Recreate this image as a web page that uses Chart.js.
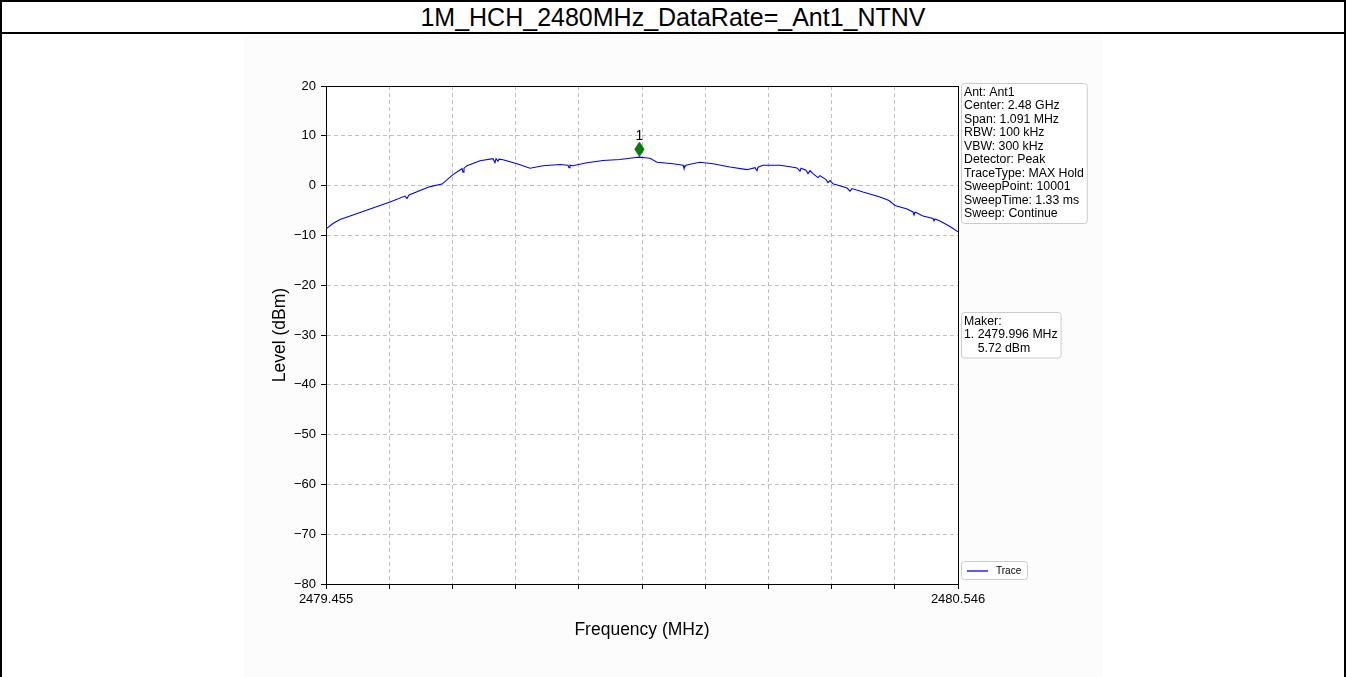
<!DOCTYPE html>
<html>
<head>
<meta charset="utf-8">
<script src="https://cdn.jsdelivr.net/npm/chart.js@4.4.1/dist/chart.umd.min.js"></script>
<style>
  html, body { margin:0; padding:0; background:#fff; width:1346px; height:677px; overflow:hidden; }
  #frame { position:absolute; left:0; top:0; width:1342px; height:720px; border:2px solid #000; }
  #title { height:30px; line-height:30px; border-bottom:2px solid #000; text-align:center;
           font-family:'Liberation Sans', Arial, sans-serif; font-size:25px; color:#000; }
  #wrap { position:absolute; left:244px; top:35px; width:859px; height:642px; background:#fcfcfc; }
  canvas { display:block; }
</style>
</head>
<body>
<div id="frame"><div id="title">1M_HCH_2480MHz_DataRate=_Ant1_NTNV</div></div>
<div id="wrap"><canvas id="c" width="859" height="642"></canvas></div>
<script>
// ---- data ----
const freqMHz = [
  2479.4550, 2479.4671, 2479.4792, 2479.5016, 2479.5310, 2479.5655, 2479.5914, 2479.5948, 2479.5983,
  2479.6345, 2479.6553, 2479.6742, 2479.6898, 2479.6915, 2479.6932, 2479.6984, 2479.7209, 2479.7433,
  2479.7467, 2479.7485, 2479.7519, 2479.7537, 2479.7606, 2479.7847, 2479.8072, 2479.8296, 2479.8590,
  2479.8728, 2479.8745, 2479.8762, 2479.8814, 2479.9056, 2479.9332, 2479.9625, 2479.9798, 2479.9867,
  2479.9960, 2480.0057, 2480.0143, 2480.0264, 2480.0540, 2480.0713, 2480.0730, 2480.0765, 2480.0834,
  2480.1006, 2480.1231, 2480.1524, 2480.1818, 2480.1956, 2480.1990, 2480.2008, 2480.2094, 2480.2387,
  2480.2560, 2480.2681, 2480.2733, 2480.2750, 2480.2836, 2480.2871, 2480.2905, 2480.2957, 2480.3043,
  2480.3078, 2480.3182, 2480.3216, 2480.3251, 2480.3302, 2480.3544, 2480.3596, 2480.3630, 2480.3820,
  2480.4114, 2480.4269, 2480.4373, 2480.4580, 2480.4683, 2480.4701, 2480.4718, 2480.4856, 2480.5029,
  2480.5046, 2480.5063, 2480.5150, 2480.5322, 2480.5460
];
const levelDbm = [
  -8.7, -7.6, -6.8, -5.9, -4.7, -3.3, -2.1, -2.6, -1.9,
  -0.2, 0.3, 2.2, 3.4, 2.7, 3.5, 4.0, 5.0, 5.4,
  4.6, 5.4, 4.9, 5.3, 5.2, 4.4, 3.5, 4.0, 4.25,
  4.1, 3.6, 4.1, 4.0, 4.6, 5.05, 5.25, 5.5, 5.6,
  5.72, 5.6, 5.5, 4.7, 4.4, 4.1, 3.5, 4.1, 4.3,
  4.7, 4.4, 3.75, 3.2, 3.6, 3.0, 3.7, 4.1, 4.1,
  3.8, 3.55, 2.9, 3.5, 3.1, 2.4, 3.0, 2.4, 1.6,
  2.0, 1.2, 0.6, 1.0, 0.35, -0.5, -1.1, -0.6, -1.3,
  -2.3, -3.0, -4.0, -4.7, -5.3, -5.9, -5.3, -6.1, -6.6,
  -7.1, -6.7, -7.1, -8.2, -9.3
];
const markerFreq = [2479.996];
const markerLevel = [7.3];
const markerLabels = ['1'];
const xMin = 2479.455, xMax = 2480.546;
const xTickLabels = ['2479.455', '', '', '', '', '', '', '', '', '', '2480.546'];
const yMin = -80, yMax = 20, yStep = 10;
const infoLines = ['Ant: Ant1', 'Center: 2.48 GHz', 'Span: 1.091 MHz', 'RBW: 100 kHz', 'VBW: 300 kHz',
  'Detector: Peak', 'TraceType: MAX Hold', 'SweepPoint: 10001', 'SweepTime: 1.33 ms', 'Sweep: Continue'];
const makerLines = ['Maker:', '1. 2479.996 MHz', '    5.72 dBm'];
const legendLabel = 'Trace';

const FONT = "'Liberation Sans', Arial, sans-serif";
Chart.defaults.font.family = FONT;
Chart.defaults.color = '#000';

// thin diamond marker image
const dia = document.createElement('canvas');
dia.width = 11; dia.height = 15;
(function(){
  const g = dia.getContext('2d');
  g.beginPath(); g.moveTo(5.5,0.5); g.lineTo(10,7.5); g.lineTo(5.5,14.5); g.lineTo(1,7.5); g.closePath();
  g.fillStyle = '#008000'; g.fill();
  g.strokeStyle = '#006400'; g.lineWidth = 1; g.stroke();
})();

const xTickValues = xTickLabels.map((_, i) => xMin + i * (xMax - xMin) / (xTickLabels.length - 1));

function roundRect(ctx, x, y, w, h, r) {
  ctx.beginPath();
  ctx.moveTo(x + r, y);
  ctx.lineTo(x + w - r, y); ctx.quadraticCurveTo(x + w, y, x + w, y + r);
  ctx.lineTo(x + w, y + h - r); ctx.quadraticCurveTo(x + w, y + h, x + w - r, y + h);
  ctx.lineTo(x + r, y + h); ctx.quadraticCurveTo(x, y + h, x, y + h - r);
  ctx.lineTo(x, y + r); ctx.quadraticCurveTo(x, y, x + r, y);
  ctx.closePath();
}
function textBox(ctx, x, y, lines, size, lineH) {
  ctx.font = size + 'px ' + FONT;
  let w = 0;
  lines.forEach(l => { w = Math.max(w, ctx.measureText(l).width); });
  const bw = w + 6, bh = lines.length * lineH + 5;
  roundRect(ctx, x + 0.5, y + 0.5, bw, bh, 3);
  ctx.fillStyle = 'rgba(255,255,255,0.85)'; ctx.fill();
  ctx.strokeStyle = '#cccccc'; ctx.lineWidth = 1; ctx.stroke();
  ctx.fillStyle = '#000'; ctx.textBaseline = 'middle'; ctx.textAlign = 'left';
  lines.forEach((l, i) => ctx.fillText(l, x + 3, y + 2.5 + lineH / 2 + i * lineH));
}

const decor = {
  id: 'decor',
  beforeDraw(chart) {
    const { ctx, chartArea: a } = chart;
    ctx.save();
    ctx.fillStyle = '#ffffff';
    ctx.fillRect(a.left, a.top, a.right - a.left, a.bottom - a.top);
    ctx.restore();
  },
  afterDraw(chart) {
    const { ctx, chartArea: a, scales } = chart;
    ctx.save();
    ctx.strokeStyle = '#000'; ctx.lineWidth = 1;
    ctx.strokeRect(Math.round(a.left) + 0.5, Math.round(a.top) + 0.5, Math.round(a.right - a.left), Math.round(a.bottom - a.top));
    // marker label
    ctx.font = '14px ' + FONT; ctx.fillStyle = '#000'; ctx.textAlign = 'center'; ctx.textBaseline = 'middle';
    markerFreq.forEach((f, i) => {
      ctx.fillText(markerLabels[i], scales.x.getPixelForValue(f), scales.y.getPixelForValue(markerLevel[i]) - 13);
    });
    // info boxes
    textBox(ctx, a.right + 3, a.top - 3, infoLines, 12.3, 13.5);
    textBox(ctx, a.right + 3, a.top + 226, makerLines, 12.3, 13.5);
    // legend
    const lx = a.right + 3, ly = a.bottom - 23;
    roundRect(ctx, lx + 0.5, ly + 0.5, 66, 18, 3);
    ctx.fillStyle = 'rgba(255,255,255,0.85)'; ctx.fill();
    ctx.strokeStyle = '#cccccc'; ctx.stroke();
    ctx.strokeStyle = '#0000ff'; ctx.lineWidth = 1.3;
    ctx.beginPath(); ctx.moveTo(lx + 6, ly + 10); ctx.lineTo(lx + 27, ly + 10); ctx.stroke();
    ctx.font = '10px ' + FONT; ctx.fillStyle = '#000'; ctx.textAlign = 'left'; ctx.textBaseline = 'middle';
    ctx.fillText(legendLabel, lx + 35, ly + 10);
    ctx.restore();
  }
};

new Chart(document.getElementById('c'), {
  type: 'line',
  data: {
    datasets: [
      {
        label: legendLabel,
        data: freqMHz.map((f, i) => ({ x: f, y: levelDbm[i] })),
        borderColor: '#0000ff', borderWidth: 1.1, pointRadius: 0, tension: 0, fill: false, order: 2
      },
      {
        label: 'marker',
        type: 'scatter',
        data: markerFreq.map((f, i) => ({ x: f, y: markerLevel[i] })),
        pointStyle: dia, pointRadius: 7, order: 1
      }
    ]
  },
  options: {
    responsive: false, animation: false, devicePixelRatio: 1,
    layout: { padding: { left: 20, top: 51, right: 145, bottom: 32 } },
    plugins: { legend: { display: false }, tooltip: { enabled: false }, title: { display: false } },
    scales: {
      x: {
        type: 'linear', min: xMin, max: xMax,
        afterBuildTicks: s => { s.ticks = xTickValues.map(v => ({ value: v })); },
        afterFit: s => { s.height = 61; },
        ticks: { autoSkip: false, maxRotation: 0, padding: 3, font: { size: 13 }, color: '#000',
                 callback: (v, i) => xTickLabels[i] },
        grid: { color: '#b0b0b0', lineWidth: 0.8, drawTicks: true, tickLength: 5,
                tickColor: '#000', tickWidth: 1, tickBorderDash: [] },
        border: { display: true, color: '#000', width: 1, dash: [4, 3] },
        title: { display: true, text: 'Frequency (MHz)', font: { size: 17.5 }, color: '#000', padding: { top: 4, bottom: 4 } }
      },
      y: {
        type: 'linear', min: yMin, max: yMax,
        afterFit: s => { s.width = 62; },
        ticks: { stepSize: yStep, padding: 5, font: { size: 13 }, color: '#000',
                 callback: v => String(v).replace('-', '\u2212') },
        grid: { color: '#b0b0b0', lineWidth: 0.8, drawTicks: true, tickLength: 5,
                tickColor: '#000', tickWidth: 1, tickBorderDash: [] },
        border: { display: true, color: '#000', width: 1, dash: [4, 3] },
        title: { display: true, text: 'Level (dBm)', font: { size: 17.5 }, color: '#000', padding: { top: 6, bottom: 4 } }
      }
    }
  },
  plugins: [decor]
});
</script>
</body>
</html>
